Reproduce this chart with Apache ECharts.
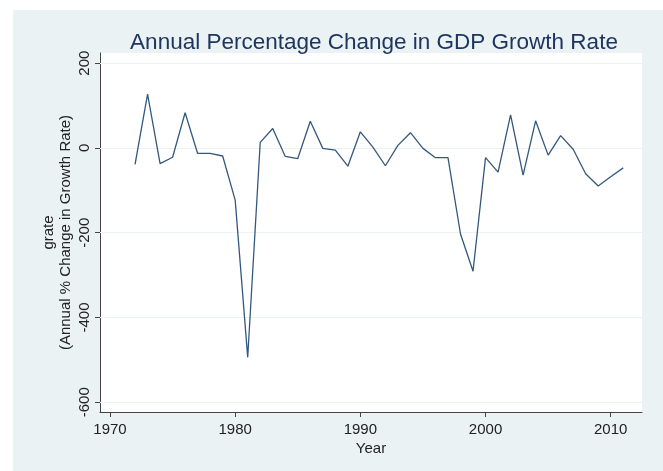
<!DOCTYPE html>
<html>
<head>
<meta charset="utf-8">
<script src="https://cdn.jsdelivr.net/npm/echarts@6/dist/echarts.min.js"></script>
<style>
  html, body { margin: 0; padding: 0; background: #ffffff; }
  #chart { width: 663px; height: 471px; }
</style>
</head>
<body>
<div id="chart"></div>
<script>
// Annual percentage change in the GDP growth rate, 1972-2011
const years = [1972, 1973, 1974, 1975, 1976, 1977, 1978, 1979, 1980, 1981,
               1982, 1983, 1984, 1985, 1986, 1987, 1988, 1989, 1990, 1991,
               1992, 1993, 1994, 1995, 1996, 1997, 1998, 1999, 2000, 2001,
               2002, 2003, 2004, 2005, 2006, 2007, 2008, 2009, 2010, 2011];
const grate = [-39, 127, -37, -22, 83, -13, -13, -19, -123, -494,
               13, 46, -20, -25, 63, -1, -5, -43, 38, 2,
               -42, 6, 36, -1, -23, -23, -203, -291, -23, -57,
               78, -64, 64, -17, 29, -3, -61, -90, -68, -47];
const xTicks = [1970, 1980, 1990, 2000, 2010];
const yTicks = [200, 0, -200, -400, -600];

const chart = echarts.init(document.getElementById('chart'), null, { renderer: 'canvas' });
const axisColor = '#444';
const textColor = '#222';
const font = 'Liberation Sans, Arial, Helvetica, sans-serif';

chart.setOption({
  animation: false,
  backgroundColor: '#ffffff',
  graphic: [{
    type: 'rect',
    z: -10,
    shape: { x: 13, y: 10, width: 650, height: 461 },
    style: { fill: '#eaf2f3' }
  }],
  title: {
    text: 'Annual Percentage Change in GDP Growth Rate',
    left: 369,
    textAlign: 'center',
    top: 26,
    textStyle: { color: '#1e3560', fontFamily: font, fontSize: 22.5, fontWeight: 'normal' }
  },
  grid: {
    left: 100, right: 21, top: 53, bottom: 59,
    show: true, backgroundColor: '#ffffff', borderWidth: 0
  },
  xAxis: {
    type: 'value',
    min: 1969.2,
    max: 2012.5,
    name: 'Year',
    nameLocation: 'middle',
    nameGap: 29,
    nameMoveOverlap: false,
    nameTextStyle: { color: textColor, fontFamily: font, fontSize: 15 },
    axisLine: { show: true, onZero: false, lineStyle: { color: axisColor, width: 1 } },
    axisTick: { show: true, length: 5, customValues: xTicks, lineStyle: { color: axisColor } },
    axisLabel: {
      customValues: xTicks, margin: 10, color: textColor, fontFamily: font, fontSize: 15,
      formatter: v => String(v)
    },
    splitLine: { show: false }
  },
  yAxis: {
    type: 'value',
    min: -623,
    max: 224,
    name: 'grate\n(Annual % Change in Growth Rate)',
    nameLocation: 'middle',
    nameRotate: 90,
    nameGap: 26,
    nameMoveOverlap: false,
    nameTextStyle: { color: textColor, fontFamily: font, fontSize: 15, lineHeight: 17 },
    axisLine: { show: true, onZero: false, lineStyle: { color: axisColor, width: 1 } },
    axisTick: { show: true, length: 5, customValues: yTicks, lineStyle: { color: axisColor } },
    axisLabel: {
      customValues: yTicks, rotate: 90, margin: 8, color: textColor, fontFamily: font, fontSize: 15,
      formatter: v => String(v)
    },
    splitLine: { show: false }
  },
  series: [{
    type: 'line',
    data: years.map((y, i) => [y, grate[i]]),
    symbol: 'none',
    lineStyle: { color: '#34587d', width: 1.3 },
    markLine: {
      silent: true,
      symbol: 'none',
      label: { show: false },
      lineStyle: { color: '#eaf2f3', width: 1, type: 'solid' },
      data: yTicks.map(v => ({ yAxis: v })),
      z: 1
    },
    z: 3
  }]
});
</script>
</body>
</html>
